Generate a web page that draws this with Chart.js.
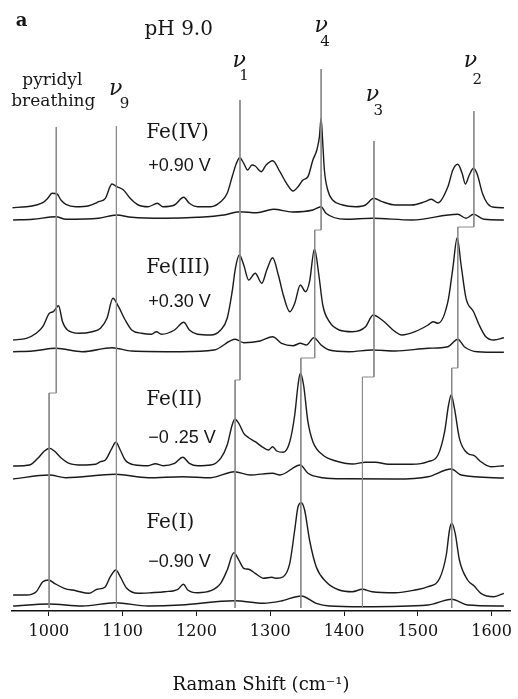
<!DOCTYPE html>
<html lang="en">
<head>
<meta charset="UTF-8">
<title>Raman spectra, pH 9.0</title>
<script src="https://cdn.jsdelivr.net/npm/chart.js"></script>
<style>
  html, body { margin: 0; padding: 0; background: #fff; }
  .chart-box { position: relative; width: 518px; height: 699px; }
</style>
</head>
<body>
<div class="chart-box"><canvas id="chart"></canvas></div>
<script>
// [Raman shift (cm-1), intensity (arb. units, spectra stacked)]
const feIV = [[950.7,403.3],[969.5,404.3],[982.9,406],[991.7,408.3],[998.4,412.7],[1004.3,417.7],[1011,417],[1016.3,411],[1023,406.7],[1036.4,404.3],[1054.2,405.3],[1067.6,409.3],[1076.6,412.7],[1085.4,427],[1092.1,424.3],[1101.1,421],[1110.1,412.7],[1121.2,406],[1134.6,404.3],[1147,407.7],[1154.7,404.3],[1170.3,406],[1182.8,413.7],[1190.4,407.7],[1201.5,404.3],[1219.4,404.3],[1232.8,409.3],[1241.7,417.7],[1248.4,434.3],[1254.2,447.7],[1258.7,453.3],[1264.1,447.7],[1269.4,441],[1275.2,446],[1279.6,445],[1287.7,439.3],[1294.4,446],[1303.3,450.3],[1313.1,439.3],[1322.1,427.7],[1331,420],[1337.7,424.3],[1344.4,431],[1351.1,434.3],[1357.8,451],[1363.2,461],[1366.7,474.3],[1368.9,492.7],[1371.2,468],[1373.4,441],[1377.9,421],[1384.6,411],[1398,406],[1415.8,404.3],[1429.2,406],[1440.3,412.7],[1451.6,409.3],[1469.4,406],[1491.8,406],[1509.6,409.3],[1518.5,411.7],[1527.4,408.3],[1540.8,424.3],[1547.5,441],[1554.2,446.7],[1560.1,437.7],[1564.5,427],[1569.8,436],[1575.6,442.7],[1580.9,436],[1587.6,417.7],[1594.3,407.7],[1603.3,403.7],[1616.7,403.3]];
const feIVref = [[951.5,391],[978.3,391.7],[1009.6,394.3],[1023,391.7],[1067.6,392.7],[1091.5,396],[1112.2,393.7],[1157,392.7],[1201.5,393.7],[1237.3,396],[1258.2,399.3],[1281.9,398.3],[1304.3,401.7],[1330,399],[1357.8,401],[1369,404.3],[1375.6,397.7],[1402.4,391.7],[1438.2,392.7],[1491.8,391],[1554.2,396.7],[1565.4,392.7],[1575.6,396.7],[1589.9,391.7],[1616.7,391]];

const feIII = [[951.5,271],[969.5,272.7],[982.9,277.7],[991.7,284.3],[1000.7,297.7],[1006,299.3],[1013.1,305.3],[1018.5,289.3],[1025.2,281],[1040.8,277.7],[1058.7,279.3],[1069.9,282.7],[1078.7,292.7],[1086.8,312.7],[1094.4,304.3],[1103.4,291],[1112.2,281],[1125.6,277.7],[1139,276.7],[1145.7,279.3],[1152.4,276.7],[1170.3,281],[1182.8,288.7],[1190.4,281],[1201.5,276.7],[1219.4,276],[1232.8,281],[1241.7,292.7],[1248.4,319.3],[1252.8,342.7],[1258.2,356],[1264.1,346],[1270.8,331],[1279.6,337.7],[1288.6,327.7],[1295.3,341],[1303.3,353.3],[1311,336],[1317.7,316],[1326.5,299.3],[1333.2,307.7],[1340.8,326],[1347.9,319.3],[1353.3,329.3],[1360,362],[1365.9,336],[1371.2,306],[1380.1,289.3],[1393.5,281],[1411.4,279.3],[1429.2,284.3],[1439.5,296],[1451.6,291],[1469.4,279.3],[1478.4,276],[1496.2,279.3],[1514,286],[1520.7,289.3],[1527.4,287.7],[1540.8,309.3],[1547.5,342.7],[1553.4,373.3],[1558.7,346],[1565.4,312.7],[1575.6,299.3],[1583.2,286],[1592.2,274.3],[1603.3,271],[1616.7,273.3]];
const feIIIref = [[951.5,259.3],[978.3,260],[1009.6,262.7],[1045.3,259.3],[1085.4,263.3],[1112.2,260],[1179.2,259.3],[1223.9,261],[1252.8,271.7],[1264.1,268.3],[1286.3,270],[1303.3,274.3],[1315.4,267.7],[1331,265.3],[1340.8,267.7],[1348.9,266],[1359.2,273.3],[1368.9,266],[1380.1,261],[1406.9,259.3],[1438.2,261],[1469.4,260],[1514,262.7],[1540.8,264.3],[1554.2,271.7],[1563.1,264.3],[1580.9,259.3],[1616.7,258.7]];

const feII = [[951.5,145],[973.9,146],[985,152.7],[994,160],[1000.7,162.7],[1007.4,160],[1016.3,153.3],[1027.5,147.7],[1045.3,146],[1063.2,146.7],[1069.9,149.3],[1076.6,151],[1085.4,162.7],[1090.8,168.7],[1096.7,161],[1103.4,151],[1116.8,146],[1134.6,145.3],[1144.4,147.3],[1154.7,145.3],[1170.3,147.7],[1181.5,153.7],[1190.4,147.7],[1201.5,145.3],[1219.4,146],[1232.8,152.7],[1241.7,166],[1248.4,186],[1252,191.7],[1257.4,187.7],[1264.1,177.7],[1270.8,173.3],[1279.6,169.3],[1290.9,163.3],[1297.6,161],[1303.3,164.3],[1308.7,160],[1317.7,158.7],[1326.5,169.3],[1333.2,196],[1337.7,226],[1340.8,237.7],[1345.2,226],[1351.1,189.3],[1357.8,169.3],[1371.2,156],[1389,150],[1411.4,147],[1429.2,148.7],[1442.6,148.7],[1460.4,146.7],[1491.8,146.7],[1514,149.3],[1527.4,156],[1536.4,179.3],[1541.7,206],[1545.3,216],[1549.7,202.7],[1556.4,172.7],[1567.5,157.7],[1576.5,155.3],[1585.5,149.3],[1598.9,144.3],[1616.7,145.3]];
const feIIref = [[951.5,132],[1000.7,136],[1023,133.3],[1090,136.7],[1134.6,133.3],[1181.5,134.3],[1219.4,133.3],[1251.5,139.3],[1272.9,136],[1303.3,137.7],[1313,136],[1340.8,146],[1351.1,137.7],[1371.2,133.3],[1402.4,132.2],[1469.4,132],[1514,134.3],[1545.3,142],[1558.7,136],[1616.7,133]];

const feI = [[951.5,16],[969.5,16],[982.9,19.3],[991.7,29.3],[999.7,31],[1007.4,27.7],[1020.8,22.7],[1036.4,20.3],[1054.2,17.7],[1065.4,21.7],[1075.7,23.7],[1083.3,34.3],[1090.8,41],[1096.7,34.3],[1105.5,22.7],[1121.2,17.7],[1139,18.3],[1157,19.3],[1174.8,21.7],[1182.4,26.7],[1188.2,21],[1201.5,18.3],[1219.4,20.3],[1232.8,27.7],[1241.7,41],[1250.7,58.3],[1257.4,51],[1264.1,42.7],[1270.8,41.7],[1279.6,37.7],[1290.9,32.7],[1302,33.7],[1308.7,32.7],[1317.7,34.3],[1326.5,47.7],[1333.2,81],[1337.7,104.3],[1342.2,108.3],[1346.6,101],[1353.3,71],[1362.3,44.3],[1375.6,29.3],[1393.5,21],[1411.4,19.3],[1424.8,21.7],[1438.2,19.3],[1469.4,18.3],[1496.2,21],[1514,24.3],[1529.7,32.7],[1538.6,56],[1543,81],[1546.1,87.7],[1550.7,77.7],[1556.4,51],[1567.5,31],[1576.5,25],[1585.5,17.7],[1603.3,14.3],[1616.7,17.7]];
const feIref = [[951.5,5],[999.7,7],[1045.3,5],[1090,8.3],[1134.6,5],[1179.2,6],[1251.5,10.3],[1290.9,7.7],[1315,10],[1342.2,15],[1362.3,7.7],[1380.1,5],[1424.8,4.3],[1514,6],[1546.1,11.7],[1567.5,6],[1616.7,5]];

// band markers, shifting with oxidation state
const markPyridyl = [[1010,484],[1010,218],[1000.3,218],[1000.3,3]];
const markNu9 = [[1091.5,485],[1091.5,3]];
const markNu1 = [[1259,511],[1259,231],[1252.4,231],[1252.4,3]];
const markNu4 = [[1369,542],[1369,381],[1360.3,381],[1360.3,253],[1341.5,253],[1341.5,3]];
const markNu3 = [[1440.6,470],[1440.6,234],[1425,234],[1425,3]];
const markNu2 = [[1576,500],[1576,384],[1554.2,384],[1554.2,243],[1546,243],[1546,3]];

const tickValues = [1000, 1100, 1200, 1300, 1400, 1500, 1600];

const toXY = arr => arr.map(p => ({ x: p[0], y: p[1] }));

// text labels: [text, x (cm-1), y, font, align]
const labels = [
  ['a', 963, 590, 'bold 18px "DejaVu Serif"', 'center'],
  ['pH 9.0', 1176, 581, '20px "DejaVu Serif"', 'center'],
  ['pyridyl', 1004.7, 530, '17px "DejaVu Serif"', 'center'],
  ['breathing', 1006, 509, '17px "DejaVu Serif"', 'center'],
  ['ν', 1090.4, 522, 'italic 22px "DejaVu Serif"', 'center'],
  ['9', 1102.4, 507, '15px "DejaVu Serif"', 'center'],
  ['ν', 1257.8, 550, 'italic 22px "DejaVu Serif"', 'center'],
  ['1', 1264.5, 535, '15px "DejaVu Serif"', 'center'],
  ['ν', 1368.9, 585, 'italic 22px "DejaVu Serif"', 'center'],
  ['4', 1374.3, 569, '15px "DejaVu Serif"', 'center'],
  ['ν', 1438.6, 516, 'italic 22px "DejaVu Serif"', 'center'],
  ['3', 1446.6, 500, '15px "DejaVu Serif"', 'center'],
  ['ν', 1571.3, 550, 'italic 22px "DejaVu Serif"', 'center'],
  ['2', 1580.7, 531, '15px "DejaVu Serif"', 'center'],
  ['Fe(IV)', 1131.9, 478, '20px "DejaVu Serif"', 'left'],
  ['+0.90 V', 1134.6, 445, '18px "Liberation Sans"', 'left'],
  ['Fe(III)', 1131.9, 343, '20px "DejaVu Serif"', 'left'],
  ['+0.30 V', 1134.6, 309, '18px "Liberation Sans"', 'left'],
  ['Fe(II)', 1131.9, 211, '20px "DejaVu Serif"', 'left'],
  ['\u22120 .25 V', 1134.6, 173, '18px "Liberation Sans"', 'left'],
  ['Fe(I)', 1131.9, 88, '20px "DejaVu Serif"', 'left'],
  ['\u22120.90 V', 1134.6, 49, '18px "Liberation Sans"', 'left']
];

const textPlugin = {
  id: 'textLabels',
  afterDatasetsDraw(chart) {
    const ctx = chart.ctx;
    const xs = chart.scales.x, ys = chart.scales.y;
    ctx.save();
    ctx.fillStyle = '#161616';
    ctx.textBaseline = 'middle';
    labels.forEach(l => {
      ctx.font = l[3];
      ctx.textAlign = l[4];
      ctx.fillText(l[0], xs.getPixelForValue(l[1]), ys.getPixelForValue(l[2]));
    });
    ctx.restore();
  }
};

const trace = (data) => ({
  data: toXY(data), borderColor: '#1a1a1a', borderWidth: 1.4,
  pointRadius: 0, cubicInterpolationMode: 'monotone', fill: false
});
const marker = (data) => ({
  data: toXY(data), borderColor: '#8a8a8a', borderWidth: 1,
  pointRadius: 0, tension: 0, fill: false
});

new Chart(document.getElementById('chart'), {
  type: 'line',
  data: {
    datasets: [
      marker(markPyridyl), marker(markNu9), marker(markNu1),
      marker(markNu4), marker(markNu3), marker(markNu2),
      trace(feIV), trace(feIVref), trace(feIII), trace(feIIIref),
      trace(feII), trace(feIIref), trace(feI), trace(feIref)
    ]
  },
  options: {
    responsive: true,
    maintainAspectRatio: false,
    animation: false,
    layout: { padding: { left: 12, right: 2, top: 11, bottom: 0 } },
    plugins: { legend: { display: false }, tooltip: { enabled: false } },
    scales: {
      x: {
        type: 'linear', min: 950, max: 1625,
        afterBuildTicks: s => { s.ticks = tickValues.map(v => ({ value: v })); },
        afterFit: s => { s.height = 88; },
        border: { display: true, color: '#111', width: 1.5 },
        grid: { drawOnChartArea: false, drawTicks: true, tickLength: 5, color: '#111' },
        ticks: { color: '#111', font: { family: 'DejaVu Serif', size: 16 }, padding: 6,
                 maxRotation: 0, callback: v => String(v) },
        title: { display: true, text: 'Raman Shift (cm\u207B\u00B9)', color: '#111',
                 font: { family: 'DejaVu Serif', size: 18 }, padding: { top: 0, bottom: 3 } }
      },
      y: { display: false, min: 0, max: 600 }
    }
  },
  plugins: [textPlugin]
});
</script>
</body>
</html>
